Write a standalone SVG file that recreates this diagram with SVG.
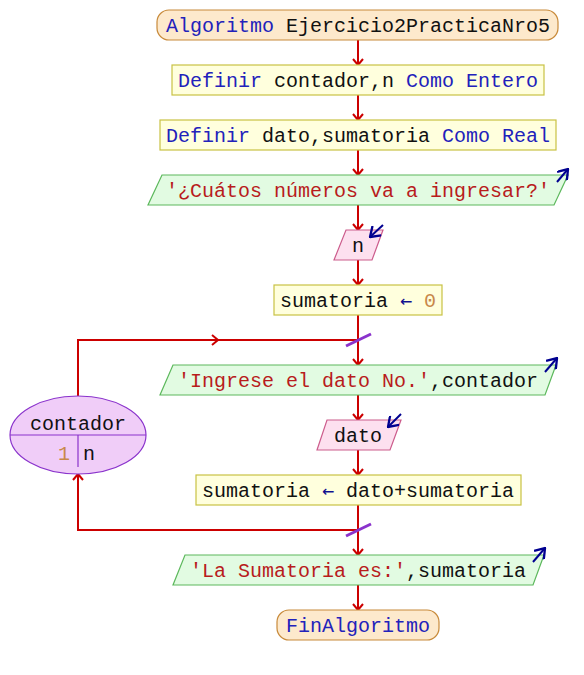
<svg xmlns="http://www.w3.org/2000/svg" width="584" height="675" viewBox="0 0 584 675">
<style>
text{font-family:"Liberation Mono","DejaVu Sans Mono",monospace;font-size:20px;fill:#111}
.c{text-anchor:middle}
.kw{fill:#2222bb}
.st{fill:#b81c1c}
.nu{fill:#c8884a}
.op{fill:#101090;font-family:"DejaVu Sans Mono",monospace}
.term{fill:#fde9cc;stroke:#c88a3a;stroke-width:1.2}
.proc{fill:#ffffdd;stroke:#c8c244;stroke-width:1.2}
.out{fill:#e2fbe2;stroke:#5cb85c;stroke-width:1.2}
.in{fill:#fde0ef;stroke:#cc5c8c;stroke-width:1.2}
.flow{fill:none;stroke:#cc0000;stroke-width:2}
.io{fill:none;stroke:#000090;stroke-width:2}
.slash{stroke:#8a33cc;stroke-width:3}
</style>
<defs>
<marker id="ah" viewBox="0 0 12 12" refX="11" refY="6" markerWidth="12" markerHeight="12" markerUnits="userSpaceOnUse" orient="auto">
<path d="M5,1 L11,6 L5,11" fill="none" stroke="#cc0000" stroke-width="2"/>
</marker>
<marker id="bh" viewBox="0 0 12 12" refX="11" refY="6" markerWidth="14" markerHeight="14" markerUnits="userSpaceOnUse" orient="auto">
<path d="M3,0.5 L11,6 L3,11.5" fill="none" stroke="#000090" stroke-width="2"/>
</marker>
</defs>
<g id="connectors">
<line class="flow" x1="358" y1="40" x2="358" y2="65" marker-end="url(#ah)"/>
<line class="flow" x1="358" y1="95" x2="358" y2="120" marker-end="url(#ah)"/>
<line class="flow" x1="358" y1="150" x2="358" y2="175" marker-end="url(#ah)"/>
<line class="flow" x1="358" y1="205" x2="358" y2="230" marker-end="url(#ah)"/>
<line class="flow" x1="358" y1="260" x2="358" y2="285" marker-end="url(#ah)"/>
<line class="flow" x1="358" y1="315" x2="358" y2="365" marker-end="url(#ah)"/>
<line class="flow" x1="358" y1="395" x2="358" y2="420" marker-end="url(#ah)"/>
<line class="flow" x1="358" y1="450" x2="358" y2="475" marker-end="url(#ah)"/>
<line class="flow" x1="358" y1="505" x2="358" y2="555" marker-end="url(#ah)"/>
<line class="flow" x1="358" y1="585" x2="358" y2="610" marker-end="url(#ah)"/>
<path class="flow" d="M78,396 V340 H218" marker-end="url(#ah)"/>
<line class="flow" x1="216" y1="340" x2="358" y2="340"/>
<path class="flow" d="M358,530 H78 V474" marker-end="url(#ah)"/>
<line class="slash" x1="346" y1="346" x2="371" y2="334"/>
<line class="slash" x1="346" y1="536" x2="371" y2="524"/>
</g>
<g id="start">
<rect class="term" x="157" y="10" width="401" height="30" rx="12"/>
<text class="c" x="358" y="32"><tspan class="kw">Algoritmo</tspan> Ejercicio2PracticaNro5</text>
</g>
<g id="def1">
<rect class="proc" x="172" y="65" width="372" height="30"/>
<text class="c" x="358" y="87"><tspan class="kw">Definir</tspan> contador,n <tspan class="kw">Como Entero</tspan></text>
</g>
<g id="def2">
<rect class="proc" x="160" y="120" width="396" height="30"/>
<text class="c" x="358" y="142"><tspan class="kw">Definir</tspan> dato,sumatoria <tspan class="kw">Como Real</tspan></text>
</g>
<g id="out1">
<polygon class="out" points="162,175 568,175 554,205 148,205"/>
<text class="c" x="358" y="197"><tspan class="st">'¿Cuátos números va a ingresar?'</tspan></text>
<line class="io" x1="557" y1="182" x2="568" y2="169" marker-end="url(#bh)"/>
</g>
<g id="in1">
<polygon class="in" points="346,230 383,230 372,260 334,260"/>
<text class="c" x="358" y="252">n</text>
<line class="io" x1="383" y1="225" x2="370" y2="237" marker-end="url(#bh)"/>
</g>
<g id="assign0">
<rect class="proc" x="274" y="285" width="168" height="30"/>
<text class="c" x="358" y="307">sumatoria <tspan class="op">←</tspan> <tspan class="nu">0</tspan></text>
</g>
<g id="out2">
<polygon class="out" points="173,365 556,365 545,395 160,395"/>
<text class="c" x="358" y="387"><tspan class="st">'Ingrese el dato No.'</tspan>,contador</text>
<line class="io" x1="545" y1="372" x2="557" y2="358" marker-end="url(#bh)"/>
</g>
<g id="in2">
<polygon class="in" points="327,420 401,420 390,450 317,450"/>
<text class="c" x="358" y="442">dato</text>
<line class="io" x1="401" y1="414" x2="388" y2="427" marker-end="url(#bh)"/>
</g>
<g id="assign1">
<rect class="proc" x="196" y="475" width="325" height="30"/>
<text class="c" x="358" y="497">sumatoria <tspan class="op">←</tspan> dato+sumatoria</text>
</g>
<g id="out3">
<polygon class="out" points="185,555 544,555 533,585 173,585"/>
<text class="c" x="358" y="577"><tspan class="st">'La Sumatoria es:'</tspan>,sumatoria</text>
<line class="io" x1="533" y1="562" x2="545" y2="548" marker-end="url(#bh)"/>
</g>
<g id="end">
<rect class="term" x="277" y="610" width="162" height="30" rx="12"/>
<text class="c kw" x="358" y="632">FinAlgoritmo</text>
</g>
<g id="loop">
<ellipse cx="78" cy="435" rx="68" ry="39" fill="#f0cdf8" stroke="#8a33cc" stroke-width="1.2"/>
<line x1="10" y1="435" x2="146" y2="435" stroke="#8a33cc" stroke-width="1.2"/>
<line x1="78" y1="435" x2="78" y2="467" stroke="#8a33cc" stroke-width="1.2"/>
<text class="c" x="78" y="430">contador</text>
<text class="nu" x="58" y="460">1</text>
<text x="83" y="460">n</text>
</g>
</svg>
